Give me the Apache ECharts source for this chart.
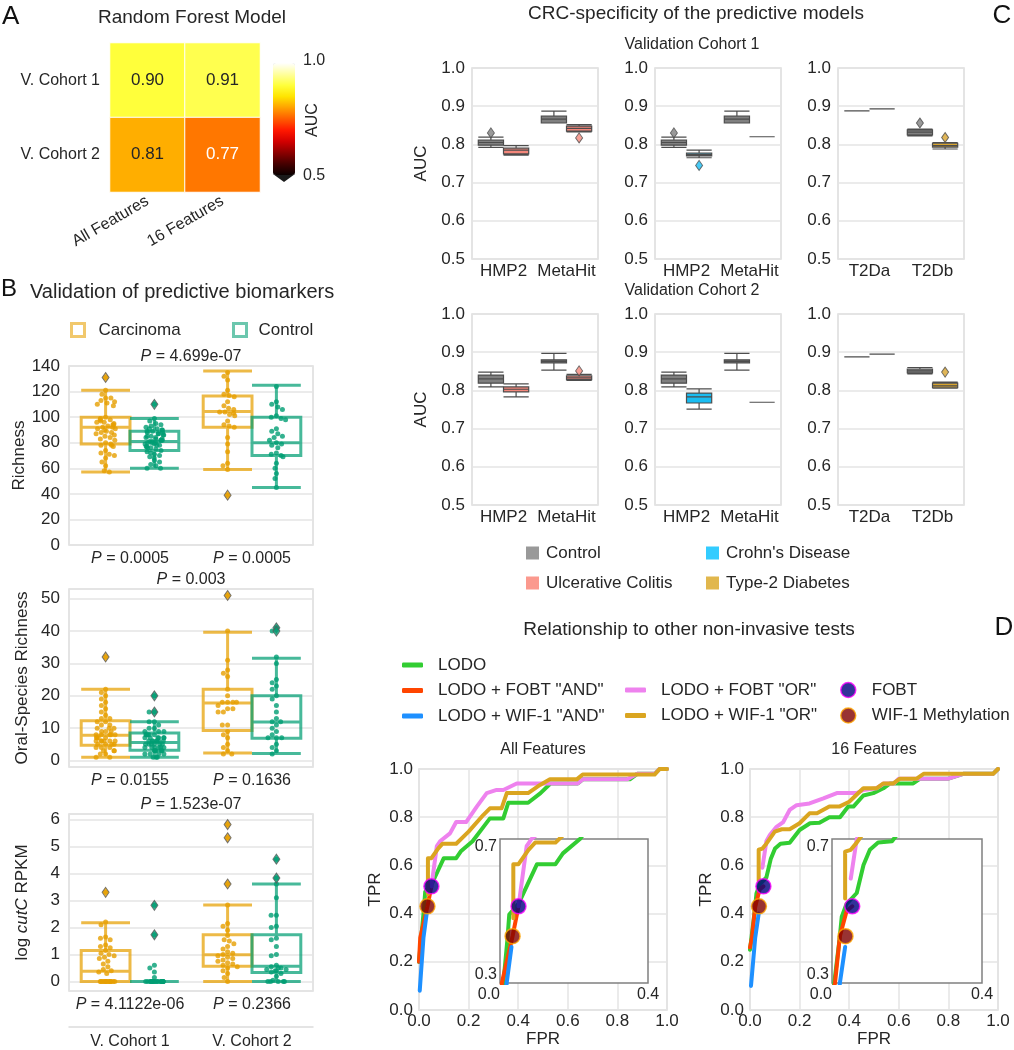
<!DOCTYPE html>
<html><head><meta charset="utf-8">
<script src="https://cdn.jsdelivr.net/npm/echarts@6/dist/echarts.min.js"></script>
<style>html,body{margin:0;padding:0;background:#fff}#c{width:1014px;height:1050px}</style>
</head><body><div id="c"></div><script>
// ---------------- DATA ----------------
// Panel A
const heatCols = ['All Features', '16 Features'];
const heatRows = ['V. Cohort 1', 'V. Cohort 2'];
const heatAUC = [[0.90, 0.91], [0.81, 0.77]];
const cbTicks = ['1.0', '0.5'];
const hotColors = ['#0b0000','#460000','#8c0000','#d20000','#ff1800','#ff5c00','#ffa000','#ffe400','#ffff3b','#ffff9d','#ffffff'];

// Panel B
const bLegend = ['Carcinoma', 'Control'];
const cohortCats = ['V. Cohort 1', 'V. Cohort 2'];
const richPTop = '{i|P} = 4.699e-07';
const richPCats = ['{i|P} = 0.0005', '{i|P} = 0.0005'];
const carc1Rich = [131,121,118,115,115,113,112,111,110,109,100,99,98,98,97,96,96,95,94,94,93,92,92,91,91,90,89,88,88,87,86,85,84,83,82,80,79,78,78,77,74,72,71,70,68,65,62,58,57];
const ctrl1Rich = [110,99,97,95,94,93,92,91,91,90,90,89,89,88,88,87,87,86,86,85,85,84,84,83,83,82,82,82,81,81,80,80,80,79,79,78,78,77,77,76,76,75,74,73,72,71,70,69,68,66,65,63,62,60,60];
const carc2Rich = [135,132,129,121,118,117,116,112,109,107,106,104,104,103,102,101,97,94,93,92,84,79,73,64,62,59,39];
const ctrl2Rich = [124,112,110,108,106,101,100,99,98,91,89,87,85,84,82,80,79,78,76,72,71,70,69,64,60,56,52,45];
const carc1RichBox = [57,79,92,100,121];
const ctrl1RichBox = [60,74,81,89,99];
const carc2RichBox = [59,92,104.5,116.5,136];
const ctrl2RichBox = [45,70,80,100,125];
const carc1RichOut = [131];
const ctrl1RichOut = [110];
const carc2RichOut = [39];
const ctrl2RichOut = [];

const oralPTop = '{i|P} = 0.003';
const oralPCats = ['{i|P} = 0.0155', '{i|P} = 0.1636'];
const carc1Oral = [32,22,21,20,19,18,17,16,15,14,13,13,12,12,11,11,10,10,10,9,9,9,8,8,8,8,8,7,7,7,7,6,6,6,6,6,6,5,5,5,5,4,4,4,3,3,3,2,2,1,1];
const ctrl1Oral = [20,15,15,12,12,11,10,10,9,9,9,8,8,8,8,8,7,7,7,7,7,7,6,6,6,6,6,6,6,5,5,5,5,5,5,4,4,4,4,4,4,3,3,3,3,3,2,2,2,2,1,1,1];
const carc2Oral = [51,40,31,28,27,26,22,20,18,18,18,18,17,16,16,15,15,11,11,9,8,7,5,4,3,2,2];
const ctrl2Oral = [41,40,32,30,25,24,23,22,20,19,17,15,13,12,12,11,10,9,8,7,7,7,5,4,3,2];
const carc1OralBox = [1,4.7,7.8,12.3,22];
const ctrl1OralBox = [1,3.2,5.6,8.5,12];
const carc2OralBox = [2.3,9.3,17.8,22,39.6];
const ctrl2OralBox = [2.2,6.9,11.9,20,31.6];
const carc1OralOut = [32];
const ctrl1OralOut = [20,15];
const carc2OralOut = [51];
const ctrl2OralOut = [41,40];

const cutPTop = '{i|P} = 1.523e-07';
const cutPCats = ['{i|P} = 4.1122e-06', '{i|P} = 0.2366'];
const carc1Cut = [3.3,2.2,2.1,1.65,1.6,1.55,1.35,1.3,1.25,1.15,1.05,1.0,0.95,0.9,0.85,0.75,0.65,0.55,0.45,0.4,0.35,0.3,0,0,0,0,0,0,0,0,0,0,0,0,0,0];
const ctrl1Cut = [2.82,1.73,0.6,0.5,0.35,0.15,0,0,0,0,0,0,0,0,0,0,0,0,0,0,0,0,0,0,0,0];
const carc2Cut = [5.81,5.32,3.61,2.83,2.15,2.05,1.9,1.7,1.55,1.5,1.4,1.3,1.2,1.1,1.05,1.0,0.95,0.9,0.85,0.8,0.75,0.7,0.65,0.6,0.55,0.5,0.4,0.3,0.15,0];
const ctrl2Cut = [4.53,3.83,3.61,3.1,2.45,2.45,2.05,2.0,1.6,1.55,1.3,1.0,0.95,0.6,0.55,0.5,0.5,0.45,0.45,0.4,0.4,0.35,0.3,0.2,0.05,0,0,0,0,0];
const carc1CutBox = [0,0,0.38,1.15,2.18];
const ctrl1CutBox = [0,0,0,0,0];
const carc2CutBox = [0,0.57,0.99,1.73,2.83];
const ctrl2CutBox = [0,0.33,0.57,1.73,3.61];
const carc1CutOut = [3.3];
const ctrl1CutOut = [2.82,1.73];
const carc2CutOut = [5.81,5.32,3.61];
const ctrl2CutOut = [4.53,3.83];

// Panel C  (boxes: [min,Q1,median,Q3,max]; outliers: [categoryIndex, value])
const cLegend = ['Control', "Crohn's Disease", 'Ulcerative Colitis', 'Type-2 Diabetes'];
const cCatsIBD = ['HMP2', 'MetaHit'];
const cCatsT2D = ['T2Da', 'T2Db'];
const v1UCctrl = [[0.792,0.798,0.805,0.811,0.819],[0.856,0.856,0.866,0.874,0.887]];
const v1UCdis  = [[0.772,0.775,0.785,0.790,0.797],[0.833,0.835,0.842,0.848,0.852]];
const v1UCctrlOut = [[0,0.83]];
const v1UCdisOut = [[1,0.817]];
const v1CDctrl = [[0.792,0.798,0.805,0.811,0.819],[0.856,0.856,0.866,0.874,0.887]];
const v1CDdis  = [[0.765,0.770,0.773,0.777,0.785],[0.82,0.82,0.82,0.82,0.82]];
const v1CDctrlOut = [[0,0.83]];
const v1CDdisOut = [[0,0.745]];
const v1T2ctrl = [[0.888,0.888,0.888,0.888,0.888],[0.822,0.825,0.832,0.838,0.840]];
const v1T2dis  = [[0.893,0.893,0.893,0.893,0.893],[0.788,0.793,0.797,0.803,0.805]];
const v1T2ctrlOut = [[1,0.856]];
const v1T2disOut = [[1,0.818]];
const v2UCctrl = [[0.809,0.819,0.830,0.840,0.848],[0.853,0.872,0.876,0.880,0.897]];
const v2UCdis  = [[0.783,0.796,0.803,0.809,0.817],[0.826,0.828,0.833,0.838,0.842]];
const v2UCctrlOut = [];
const v2UCdisOut = [[1,0.851]];
const v2CDctrl = [[0.809,0.819,0.830,0.840,0.848],[0.853,0.872,0.876,0.880,0.897]];
const v2CDdis  = [[0.751,0.767,0.783,0.793,0.804],[0.769,0.769,0.769,0.769,0.769]];
const v2CDctrlOut = [];
const v2CDdisOut = [];
const v2T2ctrl = [[0.888,0.888,0.888,0.888,0.888],[0.843,0.846,0.851,0.856,0.860]];
const v2T2dis  = [[0.895,0.895,0.895,0.895,0.895],[0.806,0.807,0.812,0.819,0.822]];
const v2T2ctrlOut = [];
const v2T2disOut = [[1,0.848]];

// Panel D  ([FPR, TPR])
const dNames = ['LODO', 'LODO + FOBT "AND"', 'LODO + WIF-1 "AND"', 'LODO + FOBT "OR"', 'LODO + WIF-1 "OR"', 'FOBT', 'WIF-1 Methylation'];
const rocAllLODO = [[0,0.2],[0.02,0.42],[0.025,0.49],[0.05,0.52],[0.065,0.553],[0.1,0.63],[0.15,0.63],[0.17,0.66],[0.216,0.7],[0.26,0.76],[0.286,0.795],[0.34,0.795],[0.36,0.86],[0.44,0.86],[0.49,0.9],[0.53,0.94],[0.64,0.94],[0.66,0.957],[0.85,0.957],[0.88,0.98],[0.95,0.98],[0.97,1],[1,1]];
const rocAllFobtAnd = [[0,0.2],[0.005,0.3],[0.034,0.43],[0.05,0.513]];
const rocAllWifAnd = [[0.003,0.08],[0.018,0.3],[0.031,0.40]];
const rocAllFobtOr = [[0.05,0.513],[0.072,0.68],[0.085,0.70],[0.125,0.733],[0.15,0.78],[0.19,0.78],[0.233,0.844],[0.273,0.9],[0.313,0.913],[0.34,0.913],[0.394,0.94],[0.64,0.94],[0.66,0.957],[0.84,0.957],[0.88,0.98],[0.95,0.98],[0.97,1],[1,1]];
const rocAllWifOr = [[0.036,0.48],[0.036,0.63],[0.05,0.63],[0.077,0.67],[0.095,0.69],[0.15,0.69],[0.2,0.74],[0.26,0.81],[0.286,0.837],[0.333,0.837],[0.354,0.9],[0.44,0.9],[0.488,0.934],[0.528,0.957],[0.636,0.957],[0.66,0.977],[0.95,0.977],[0.97,1],[1,1]];
const rocAllFobtPt = [[0.05, 0.513]];
const rocAllWifPt = [[0.034, 0.43]];
const roc16LODO = [[0,0.25],[0.02,0.42],[0.026,0.484],[0.039,0.52],[0.066,0.55],[0.084,0.628],[0.101,0.67],[0.123,0.69],[0.16,0.694],[0.2,0.747],[0.242,0.775],[0.28,0.777],[0.32,0.8],[0.363,0.8],[0.396,0.844],[0.417,0.844],[0.457,0.89],[0.497,0.9],[0.538,0.92],[0.565,0.94],[0.658,0.94],[0.686,0.96],[0.8,0.96],[0.86,0.98],[0.98,0.98],[1,1]];
const roc16FobtAnd = [[0,0.26],[0.008,0.3],[0.021,0.43],[0.039,0.5],[0.054,0.513]];
const roc16WifAnd = [[0.004,0.1],[0.021,0.3],[0.035,0.4]];
const roc16FobtOr = [[0.05,0.59],[0.066,0.70],[0.08,0.726],[0.107,0.76],[0.134,0.78],[0.16,0.83],[0.188,0.85],[0.24,0.857],[0.296,0.878],[0.35,0.9],[0.43,0.9],[0.457,0.913],[0.51,0.92],[0.54,0.94],[0.58,0.94],[0.6,0.96],[0.8,0.96],[0.86,0.98],[0.98,0.98],[1,1]];
const roc16WifOr = [[0.035,0.535],[0.035,0.665],[0.05,0.67],[0.066,0.69],[0.1,0.74],[0.128,0.75],[0.16,0.75],[0.2,0.775],[0.24,0.816],[0.27,0.816],[0.32,0.844],[0.36,0.844],[0.4,0.864],[0.457,0.92],[0.51,0.92],[0.538,0.94],[0.578,0.94],[0.605,0.96],[0.672,0.96],[0.7,0.98],[0.98,0.98],[1,1]];
const roc16FobtPt = [[0.054, 0.513]];
const roc16WifPt = [[0.036, 0.43]];

// ---------------- BUILD ----------------
const FONT = '"Liberation Sans", Arial, Helvetica, sans-serif';
const TXT = '#262626';
const FRAME = '#dcdcdc', GRIDC = '#e4e4e4';
const grids = [], xAxes = [], yAxes = [], series = [], graphics = [];
const tenCats = ['s0','s1','s2','s3','s4','s5','s6','s7','s8','s9'];
const subPos = [[1,3],[6,8]];
const richI = (s) => ({ i: { fontStyle: 'italic', fontSize: s, color: TXT, fontFamily: FONT } });

function text(x, y, t, size, extra) {
  const e = { type: 'text', x: x, y: y, silent: true, style: { text: t, fontSize: size, fontFamily: FONT, fill: TXT, align: 'center', verticalAlign: 'middle' } };
  if (extra) { Object.assign(e.style, extra.style || {}); if (extra.rotation) e.rotation = extra.rotation; }
  return e;
}

// ---- Panel A ----
grids.push({ left: 110, top: 43, width: 150, height: 149 });
xAxes.push({ gridIndex: 0, type: 'category', data: heatCols, axisLine: { show: false }, axisTick: { show: false }, splitArea: { show: false },
  axisLabel: { rotate: 30, fontSize: 16, color: TXT, margin: 8, interval: 0 } });
yAxes.push({ gridIndex: 0, type: 'category', data: heatRows, inverse: true, axisLine: { show: false }, axisTick: { show: false }, splitArea: { show: false },
  axisLabel: { fontSize: 16, color: TXT, margin: 10, interval: 0 } });
const heatData = [];
heatAUC.forEach((row, r) => row.forEach((v, c) => heatData.push({ value: [c, r, v], label: { color: v < 0.8 ? '#ffffff' : TXT } })));
series.push({ type: 'heatmap', xAxisIndex: 0, yAxisIndex: 0, data: heatData, silent: true,
  itemStyle: { borderColor: '#ffffff', borderWidth: 1 },
  label: { show: true, fontSize: 17, formatter: p => p.value[2].toFixed(2) } });
graphics.push(text(2, 17, 'A', 26, { style: { align: 'left', fill: '#111' } }));
graphics.push(text(192, 18, 'Random Forest Model', 19));
graphics.push(text(303, 61, cbTicks[0], 16, { style: { align: 'left' } }));
graphics.push(text(303, 176, cbTicks[1], 16, { style: { align: 'left' } }));
graphics.push(text(313, 120, 'AUC', 16, { rotation: Math.PI / 2 }));
graphics.push({ type: 'polygon', silent: true, shape: { points: [[273, 174], [295, 174], [284, 182]] }, style: { fill: '#1a1a1a' } });

// ---- Panel B ----
const CARC = '#E69F00', CTRL = '#009E73';
const CARC_B = 'rgba(230,159,0,0.72)', CTRL_B = 'rgba(0,158,115,0.72)';
const bPlots = [
  { name: 'Richness', pTop: richPTop, pCats: richPCats, dots: [carc1Rich, ctrl1Rich, carc2Rich, ctrl2Rich], boxes: [carc1RichBox, ctrl1RichBox, carc2RichBox, ctrl2RichBox], outs: [carc1RichOut, ctrl1RichOut, carc2RichOut, ctrl2RichOut] },
  { name: 'Oral-Species Richness', pTop: oralPTop, pCats: oralPCats, dots: [carc1Oral, ctrl1Oral, carc2Oral, ctrl2Oral], boxes: [carc1OralBox, ctrl1OralBox, carc2OralBox, ctrl2OralBox], outs: [carc1OralOut, ctrl1OralOut, carc2OralOut, ctrl2OralOut] },
  { name: 'log {i|cutC} RPKM', pTop: cutPTop, pCats: cutPCats, dots: [carc1Cut, ctrl1Cut, carc2Cut, ctrl2Cut], boxes: [carc1CutBox, ctrl1CutBox, carc2CutBox, ctrl2CutBox], outs: [carc1CutOut, ctrl1CutOut, carc2CutOut, ctrl2CutOut] }
];
const bTops = [366, 589, 814], bH = [179, 178, 178];
const bY = [
  { min: 0, max: 140, interval: 20 },
  { min: -2, max: 53, splitNumber: 5 },
  { min: -0.35, max: 6.2, splitNumber: 5 }
];
bPlots.forEach((P, i) => {
  const gi = grids.length;
  grids.push({ left: 69, top: bTops[i], width: 244, height: bH[i], show: true, borderColor: FRAME, borderWidth: 1.5 });
  xAxes.push({ gridIndex: gi, type: 'category', data: ['c1', 'c2'], axisLine: { show: false }, axisTick: { show: false }, splitLine: { show: false },
    axisLabel: { interval: 0, fontSize: 16, color: TXT, margin: 6, formatter: (v, idx) => P.pCats[idx], rich: richI(16) } });
  const xj = xAxes.length;
  xAxes.push({ gridIndex: gi, type: 'category', data: tenCats, show: false, jitter: 64, jitterOverlap: false, jitterMargin: 0.3 });
  const xb = xAxes.length;
  xAxes.push({ gridIndex: gi, type: 'category', data: tenCats, show: false });
  if (i === 2) {
    xAxes.push({ gridIndex: gi, type: 'category', data: cohortCats, position: 'bottom', offset: 36,
      axisLine: { show: true, lineStyle: { color: FRAME, width: 1.5 } }, axisTick: { show: false }, splitLine: { show: false },
      axisLabel: { interval: 0, fontSize: 16, color: TXT, margin: 7 } });
  }
  const yi = yAxes.length;
  yAxes.push(Object.assign({ gridIndex: gi, type: 'value', axisLine: { show: false }, axisTick: { show: false },
    axisLabel: { fontSize: 17, color: TXT, margin: 9, showMinLabel: i === 0, showMaxLabel: i === 0 },
    splitLine: { lineStyle: { color: GRIDC, width: 1.5 } },
    name: P.name, nameLocation: 'middle', nameGap: 38,
    nameTextStyle: { fontSize: 17, color: TXT, rich: richI(17) } }, bY[i]));
  const boxData = [];
  P.boxes.forEach((b, g) => {
    const cat = g >> 1, hue = g & 1;
    boxData.push({ value: [subPos[cat][hue]].concat(b), itemStyle: { color: 'rgba(255,255,255,0)', borderColor: hue ? CTRL_B : CARC_B, borderWidth: 3 } });
  });
  series.push({ type: 'boxplot', xAxisIndex: xb, yAxisIndex: yi, encode: { x: 0, y: [1, 2, 3, 4, 5] }, boxWidth: ['200%', '200%'], data: boxData, silent: true, z: 2 });
  P.dots.forEach((d, g) => {
    const cat = g >> 1, hue = g & 1;
    series.push({ type: 'scatter', name: bLegend[hue], xAxisIndex: xj, yAxisIndex: yi, data: d.map(v => [subPos[cat][hue], v]),
      symbolSize: 5, itemStyle: { color: hue ? CTRL : CARC }, silent: true, z: 3 });
  });
  P.outs.forEach((d, g) => {
    const cat = g >> 1, hue = g & 1;
    series.push({ type: 'scatter', xAxisIndex: xb, yAxisIndex: yi, data: d.map(v => [subPos[cat][hue], v]),
      symbol: 'diamond', symbolSize: [7, 10], itemStyle: { color: hue ? CTRL : CARC, borderColor: '#5a5a5a', borderWidth: 1 }, silent: true, z: 4 });
  });
  graphics.push(text(191, bTops[i] - 9, P.pTop, 16, { style: { rich: { i: { fontStyle: 'italic', fontSize: 16, fill: TXT, fontFamily: FONT } } } }));
});
graphics.push(text(1, 289, 'B', 24, { style: { align: 'left', fill: '#111' } }));
graphics.push(text(30, 292, 'Validation of predictive biomarkers', 20, { style: { align: 'left' } }));

// ---- Panel C ----
const C_FILL = { ctrl: '#808080', uc: '#f4877b', cd: '#19bdf2', t2d: '#d8a42e' };
const C_LEG = { ctrl: '#7f7f7f', uc: '#FA8072', cd: '#00BFFF', t2d: '#DAA520' };
const cPlots = [
  [ { cats: cCatsIBD, ctrl: v1UCctrl, dis: v1UCdis, co: v1UCctrlOut, dout: v1UCdisOut, d: 'uc' },
    { cats: cCatsIBD, ctrl: v1CDctrl, dis: v1CDdis, co: v1CDctrlOut, dout: v1CDdisOut, d: 'cd' },
    { cats: cCatsT2D, ctrl: v1T2ctrl, dis: v1T2dis, co: v1T2ctrlOut, dout: v1T2disOut, d: 't2d' } ],
  [ { cats: cCatsIBD, ctrl: v2UCctrl, dis: v2UCdis, co: v2UCctrlOut, dout: v2UCdisOut, d: 'uc' },
    { cats: cCatsIBD, ctrl: v2CDctrl, dis: v2CDdis, co: v2CDctrlOut, dout: v2CDdisOut, d: 'cd' },
    { cats: cCatsT2D, ctrl: v2T2ctrl, dis: v2T2dis, co: v2T2ctrlOut, dout: v2T2disOut, d: 't2d' } ]
];
const cLefts = [472, 655, 838], cTops = [68, 314];
let legX = -1, legY = -1;
cPlots.forEach((row, r) => row.forEach((P, k) => {
  const gi = grids.length;
  grids.push({ left: cLefts[k], top: cTops[r], width: 126, height: 191, show: true, borderColor: FRAME, borderWidth: 1.5 });
  xAxes.push({ gridIndex: gi, type: 'category', data: P.cats, axisLine: { show: false }, axisTick: { show: false }, splitLine: { show: false },
    axisLabel: { interval: 0, fontSize: 17, color: TXT, margin: 4 } });
  const xb = xAxes.length;
  xAxes.push({ gridIndex: gi, type: 'category', data: tenCats, show: false });
  const yi = yAxes.length;
  yAxes.push({ gridIndex: gi, type: 'value', min: 0.5, max: 1.0, interval: 0.1, axisLine: { show: false }, axisTick: { show: false },
    axisLabel: { fontSize: 17, color: TXT, margin: 7, formatter: v => v.toFixed(1) },
    splitLine: { lineStyle: { color: GRIDC, width: 1.5 } },
    name: k === 0 ? 'AUC' : '', nameLocation: 'middle', nameGap: 42, nameTextStyle: { fontSize: 17, color: TXT } });
  if (legX < 0) { legX = xb; legY = yi; }
  const boxData = [];
  [0, 1].forEach(cat => {
    boxData.push({ value: [subPos[cat][0]].concat(P.ctrl[cat]), itemStyle: { color: C_FILL.ctrl, borderColor: '#4d4d4d', borderWidth: 1.2 } });
    boxData.push({ value: [subPos[cat][1]].concat(P.dis[cat]), itemStyle: { color: C_FILL[P.d], borderColor: '#4d4d4d', borderWidth: 1.2 } });
  });
  series.push({ type: 'boxplot', xAxisIndex: xb, yAxisIndex: yi, encode: { x: 0, y: [1, 2, 3, 4, 5] }, boxWidth: ['200%', '200%'], data: boxData, silent: true, z: 2 });
  series.push({ type: 'scatter', xAxisIndex: xb, yAxisIndex: yi, data: P.co.map(o => [subPos[o[0]][0], o[1]]), symbol: 'diamond', symbolSize: [7, 10],
    itemStyle: { color: C_FILL.ctrl, borderColor: '#4d4d4d', borderWidth: 1 }, silent: true, z: 4 });
  series.push({ type: 'scatter', xAxisIndex: xb, yAxisIndex: yi, data: P.dout.map(o => [subPos[o[0]][1], o[1]]), symbol: 'diamond', symbolSize: [7, 10],
    itemStyle: { color: C_FILL[P.d], borderColor: '#4d4d4d', borderWidth: 1 }, silent: true, z: 4 });
}));
// legend-only series for C (no data)
cLegend.forEach(n => series.push({ type: 'scatter', name: n, data: [], xAxisIndex: legX, yAxisIndex: legY, silent: true }));
graphics.push(text(696, 14, 'CRC-specificity of the predictive models', 19));
graphics.push(text(1002, 16, 'C', 26, { style: { fill: '#111' } }));
graphics.push(text(692, 45, 'Validation Cohort 1', 16));
graphics.push(text(692, 291, 'Validation Cohort 2', 16));

// ---- Panel D ----
const D_COL = ['#32CD32', '#FF4500', '#1E90FF', '#EE82EE', '#DAA520'];
const dPlots = [
  { lines: [rocAllLODO, rocAllFobtAnd, rocAllWifAnd, rocAllFobtOr, rocAllWifOr], fobt: rocAllFobtPt, wif: rocAllWifPt, title: 'All Features' },
  { lines: [roc16LODO, roc16FobtAnd, roc16WifAnd, roc16FobtOr, roc16WifOr], fobt: roc16FobtPt, wif: roc16WifPt, title: '16 Features' }
];
const dLefts = [419, 750], inLefts = [500, 832], inW = [148, 150];
const fmt1 = v => v.toFixed(1);
dPlots.forEach((P, m) => {
  let gi = grids.length;
  grids.push({ left: dLefts[m], top: 769, width: 248, height: 241, show: true, borderColor: FRAME, borderWidth: 1.5 });
  let xi = xAxes.length;
  xAxes.push({ gridIndex: gi, type: 'value', min: 0, max: 1, interval: 0.2, axisLine: { show: false }, axisTick: { show: false },
    axisLabel: { fontSize: 17, color: TXT, margin: 3, formatter: fmt1 }, splitLine: { show: true, lineStyle: { color: GRIDC, width: 1.5 } },
    name: 'FPR', nameLocation: 'middle', nameGap: 21, nameTextStyle: { fontSize: 17, color: TXT } });
  let yi = yAxes.length;
  yAxes.push({ gridIndex: gi, type: 'value', min: 0, max: 1, interval: 0.2, axisLine: { show: false }, axisTick: { show: false },
    axisLabel: { fontSize: 17, color: TXT, margin: 6, formatter: fmt1 }, splitLine: { show: true, lineStyle: { color: GRIDC, width: 1.5 } },
    name: 'TPR', nameLocation: 'middle', nameGap: 35, nameTextStyle: { fontSize: 17, color: TXT } });
  const addSeries = (xi, yi, z) => {
    P.lines.forEach((d, j) => series.push({ type: 'line', name: dNames[j], xAxisIndex: xi, yAxisIndex: yi, data: d, showSymbol: false, symbol: 'none',
      lineStyle: { color: D_COL[j], width: 4, cap: 'round', join: 'round' }, itemStyle: { color: D_COL[j] }, clip: true, silent: true, z: z }));
    series.push({ type: 'scatter', name: dNames[5], xAxisIndex: xi, yAxisIndex: yi, data: P.fobt, symbolSize: 15, clip: false,
      itemStyle: { color: '#000080', borderColor: '#ff00ff', borderWidth: 1.5 }, silent: true, z: z + 1 });
    series.push({ type: 'scatter', name: dNames[6], xAxisIndex: xi, yAxisIndex: yi, data: P.wif, symbolSize: 15, clip: false,
      itemStyle: { color: '#800000', borderColor: '#FFA500', borderWidth: 1.5 }, silent: true, z: z + 1 });
  };
  addSeries(xi, yi, 2);
  gi = grids.length;
  grids.push({ left: inLefts[m], top: 839, width: inW[m], height: 144, show: true, backgroundColor: '#ffffff', borderColor: '#808080', borderWidth: 1.5, z: 3 });
  xi = xAxes.length;
  xAxes.push({ gridIndex: gi, type: 'value', min: 0, max: 0.4, z: 3, axisLine: { show: false }, axisTick: { show: false }, splitLine: { show: false },
    axisLabel: { customValues: [0, 0.4], fontSize: 16, color: TXT, margin: 4, formatter: fmt1, alignMinLabel: 'right' } });
  yi = yAxes.length;
  yAxes.push({ gridIndex: gi, type: 'value', min: 0.3, max: 0.7, z: 3, axisLine: { show: false }, axisTick: { show: false }, splitLine: { show: false },
    axisLabel: { customValues: [0.3, 0.7], fontSize: 16, color: TXT, margin: 3, formatter: fmt1, verticalAlignMinLabel: 'bottom', verticalAlignMaxLabel: 'top' } });
  addSeries(xi, yi, 5);
  graphics.push(text(dLefts[m] + 124, 750, P.title, 16));
});
graphics.push(text(689, 630, 'Relationship to other non-invasive tests', 19));
graphics.push(text(1004, 628, 'D', 26, { style: { fill: '#111' } }));

// ---- Legends ----
const legends = [
  { left: 70, top: 321, itemWidth: 13, itemHeight: 13, textStyle: { fontSize: 17, color: TXT, padding: [0, 0, 0, 9], lineHeight: 18 },
    data: [{ name: bLegend[0], icon: 'rect', itemStyle: { color: '#ffffff', borderColor: CARC_B, borderWidth: 3 } }] },
  { left: 232, top: 321, itemWidth: 13, itemHeight: 13, textStyle: { fontSize: 17, color: TXT, padding: [0, 0, 0, 7], lineHeight: 18 },
    data: [{ name: bLegend[1], icon: 'rect', itemStyle: { color: '#ffffff', borderColor: CTRL_B, borderWidth: 3 } }] },
  { left: 526, top: 544, orient: 'vertical', itemGap: 12, itemWidth: 13, itemHeight: 13, textStyle: { fontSize: 17, color: TXT, padding: [0, 0, 0, 2], lineHeight: 18 },
    data: [{ name: cLegend[0], icon: 'rect', itemStyle: { color: C_LEG.ctrl, borderWidth: 0 } }, { name: cLegend[2], icon: 'rect', itemStyle: { color: C_LEG.uc, borderWidth: 0 } }] },
  { left: 706, top: 544, orient: 'vertical', itemGap: 12, itemWidth: 13, itemHeight: 13, textStyle: { fontSize: 17, color: TXT, padding: [0, 0, 0, 2], lineHeight: 18 },
    data: [{ name: cLegend[1], icon: 'rect', itemStyle: { color: C_LEG.cd, borderWidth: 0 } }, { name: cLegend[3], icon: 'rect', itemStyle: { color: C_LEG.t2d, borderWidth: 0 } }] },
  { left: 402, top: 656, orient: 'vertical', itemGap: 7.5, itemWidth: 21, itemHeight: 5, textStyle: { fontSize: 17, color: TXT, padding: [0, 0, 0, 10], lineHeight: 18 },
    data: [0, 1, 2].map(j => ({ name: dNames[j], icon: 'roundRect', itemStyle: { color: D_COL[j], borderWidth: 0 } })) },
  { left: 625, top: 681, orient: 'vertical', itemGap: 7.5, itemWidth: 21, itemHeight: 5, textStyle: { fontSize: 17, color: TXT, padding: [0, 0, 0, 10], lineHeight: 18 },
    data: [3, 4].map(j => ({ name: dNames[j], icon: 'roundRect', itemStyle: { color: D_COL[j], borderWidth: 0 } })) },
  { left: 840, top: 681, orient: 'vertical', itemGap: 7.5, itemWidth: 15, itemHeight: 15, textStyle: { fontSize: 17, color: TXT, padding: [0, 0, 0, 11], lineHeight: 18 },
    data: [{ name: dNames[5], icon: 'circle', itemStyle: { color: '#000080', borderColor: '#ff00ff', borderWidth: 1.5 } },
           { name: dNames[6], icon: 'circle', itemStyle: { color: '#800000', borderColor: '#FFA500', borderWidth: 1.5 } }] }
].map(l => Object.assign({ selectedMode: false, padding: 0, inactiveColor: '#ccc' }, l));

const option = {
  animation: false,
  backgroundColor: '#ffffff',
  textStyle: { fontFamily: FONT, color: TXT },
  grid: grids,
  xAxis: xAxes,
  yAxis: yAxes,
  visualMap: [{ type: 'continuous', seriesIndex: 0, min: 0.5, max: 1.0, calculable: false, orient: 'vertical', left: 273, top: 63,
    itemWidth: 22, itemHeight: 112, padding: 0, text: null, hoverLink: false, inRange: { color: hotColors } }],
  legend: legends,
  series: series,
  graphic: { elements: graphics }
};
const chart = echarts.init(document.getElementById('c'));
chart.setOption(option);
</script></body></html>
